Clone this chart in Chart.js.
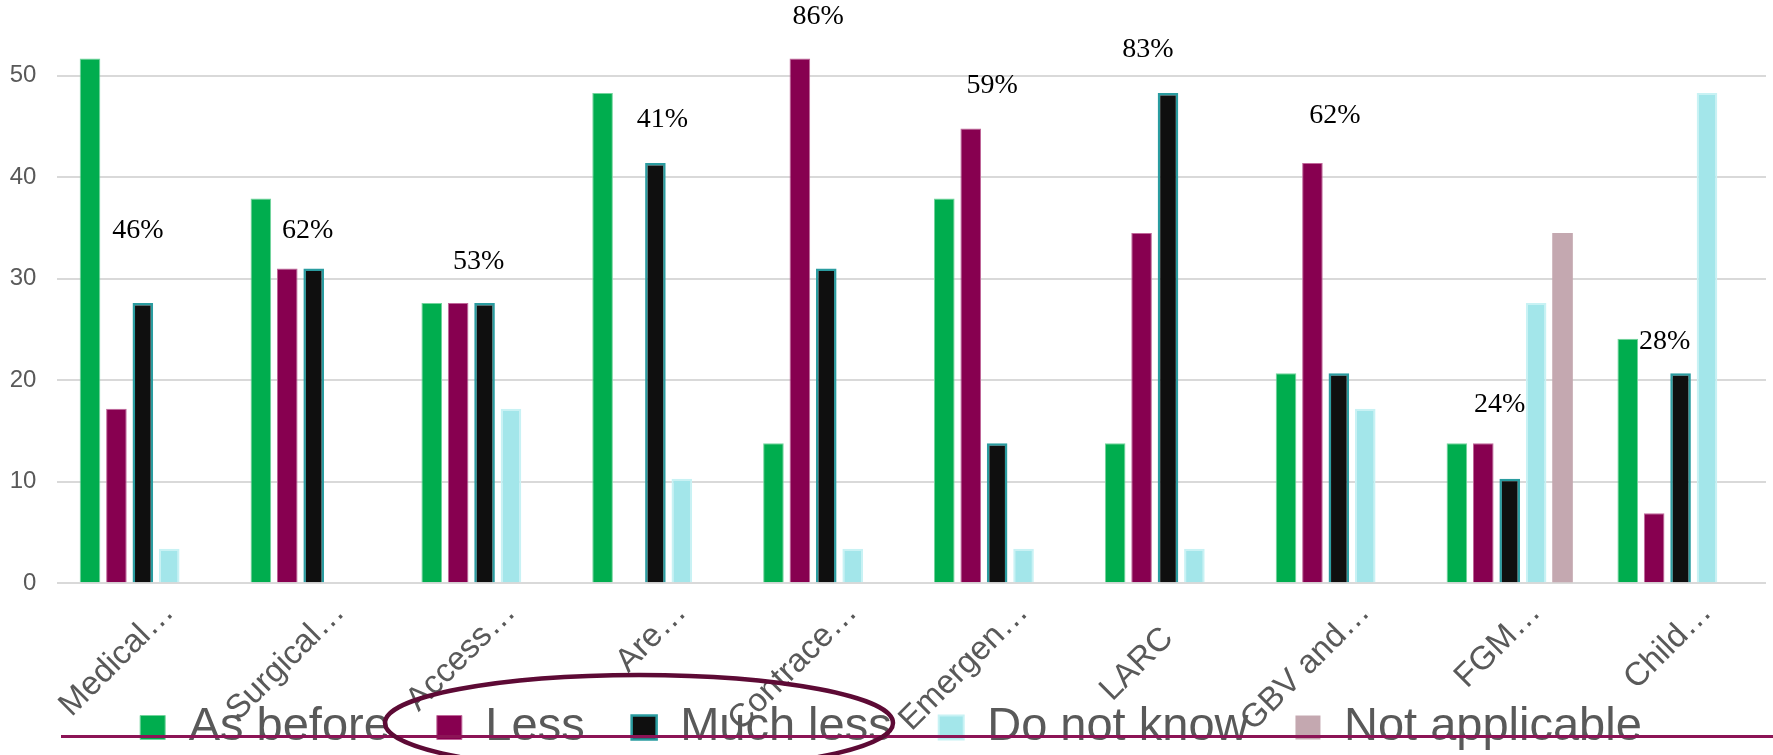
<!DOCTYPE html>
<html>
<head>
<meta charset="utf-8">
<script src="https://cdn.jsdelivr.net/npm/chart.js@4.4.1/dist/chart.umd.min.js"></script>
<style>
  html, body { margin: 0; padding: 0; background: #fff; }
  #wrap { width: 1773px; height: 755px; position: relative; }
</style>
</head>
<body>
<div id="wrap"><canvas id="myChart"></canvas></div>
<script>
// categories (labels are cut short with an ellipsis, as in the source;
// the short "LARC" sits a little lower, hence the trailing spaces)
const categories = ['Medical\u2026', 'Surgical\u2026', 'Access\u2026', 'Are\u2026', 'Contrace\u2026',
    'Emergen\u2026', 'LARC    ', 'GBV and\u2026', 'FGM\u2026', 'Child\u2026'];

// series values (%)
const asBefore     = [51.7, 37.9, 27.6, 48.3, 13.8, 37.9, 13.8, 20.7, 13.8, 24.1];
const less         = [17.2, 31.0, 27.6, 0,    51.7, 44.8, 34.5, 41.4, 13.8, 6.9];
const muchLess     = [27.6, 31.0, 27.6, 41.4, 31.0, 13.8, 48.3, 20.7, 10.3, 20.7];
const doNotKnow    = [3.4,  0,    17.2, 10.3, 3.4,  3.4,  3.4,  17.2, 27.6, 48.3];
const notApplicable = [0,   0,    0,    0,    0,    0,    0,    0,    34.5, 0];

// the loose percentage notes over each group, and the value they sit at
const pctText  = ['46%', '62%', '53%', '41%', '86%', '59%', '83%', '62%', '24%', '28%'];
const pctLevel = [34.7, 34.7, 31.7, 45.7, 55.8, 49.0, 52.6, 46.1, 17.6, 23.8];

const yTicks = [0, 10, 20, 30, 40, 50];
const yMax = 57.46;

// layout bits
const pctShift = [-5, -6, -6, 7, -8, -5, -20, -4, -10, -16];
const grey = '#595959';
const sans = '"Liberation Sans", Arial, sans-serif';

function bw(w) {
    return (ctx) => (ctx.raw ? w : 0);
}

const overlay = {
    id: 'overlay',
    afterLayout(chart) {
        // let the tick labels run outside their own boxes, like the source does
        chart.scales.x.bottom = chart.height;
        chart.scales.y.left = 0;
    },
    afterDatasetsDraw(chart) {
        const ctx = chart.ctx;
        const x = chart.scales.x, y = chart.scales.y;
        ctx.save();
        ctx.font = '28px "Liberation Serif", "Times New Roman", serif';
        ctx.fillStyle = '#000';
        ctx.textAlign = 'center';
        ctx.textBaseline = 'middle';
        for (let i = 0; i < pctText.length; i++) {
            ctx.fillText(pctText[i], x.getPixelForValue(i) + pctShift[i], y.getPixelForValue(pctLevel[i]));
        }
        ctx.restore();
    },
    afterDraw(chart) {
        const ctx = chart.ctx;
        ctx.save();
        // rule under the legend
        ctx.strokeStyle = '#8c1456';
        ctx.lineWidth = 3;
        ctx.beginPath();
        ctx.moveTo(61, 736.5);
        ctx.lineTo(1773, 736.5);
        ctx.stroke();
        // hand-drawn ring round "Less" / "Much less"
        ctx.strokeStyle = '#5d0a35';
        ctx.lineWidth = 4.5;
        ctx.beginPath();
        ctx.ellipse(639, 723, 254, 48, 0, 0, Math.PI * 2);
        ctx.stroke();
        ctx.restore();
    }
};

new Chart(document.getElementById('myChart'), {
    type: 'bar',
    data: {
        labels: categories,
        datasets: [
            { label: 'As before', data: asBefore, backgroundColor: '#00ad4e', borderColor: '#72d49c', borderWidth: bw(1) },
            { label: 'Less', data: less, backgroundColor: '#870050', borderColor: '#c0679a', borderWidth: bw(1) },
            { label: 'Much less', data: muchLess, backgroundColor: '#0f0f0f', borderColor: '#2a9ca0', borderWidth: bw(2.5) },
            { label: 'Do not know', data: doNotKnow, backgroundColor: '#a3e6ea', borderColor: '#c8f2f4', borderWidth: bw(2) },
            { label: 'Not applicable', data: notApplicable, backgroundColor: '#c4a8b0', borderColor: '#c4a8b0', borderWidth: 0 }
        ]
    },
    options: {
        responsive: true,
        maintainAspectRatio: false,
        animation: false,
        layout: { padding: { left: 16, right: 7, top: 0, bottom: -6 } },
        datasets: { bar: { categoryPercentage: 0.773, barPercentage: 0.78 } },
        scales: {
            x: {
                grid: { display: false },
                border: { display: false },
                ticks: {
                    autoSkip: false,
                    minRotation: 45,
                    maxRotation: 45,
                    padding: 2,
                    labelOffset: 26,
                    color: grey,
                    font: { family: sans, size: 33 }
                },
                afterFit(scale) {
                    scale.height = 73.7;
                    scale.paddingLeft = 0;
                    scale.paddingRight = 0;
                }
            },
            y: {
                min: 0,
                max: yMax,
                border: { display: false },
                grid: { color: '#d9d9d9', lineWidth: 2, drawTicks: false },
                ticks: {
                    padding: 21,
                    color: grey,
                    font: { family: sans, size: 24 }
                },
                afterDataLimits(scale) {
                    scale.min = 0;
                    scale.max = yMax;
                },
                afterBuildTicks(scale) {
                    scale.ticks = yTicks.map(v => ({ value: v }));
                    scale.min = 0;
                    scale.max = yMax;
                },
                afterFit(scale) {
                    scale.width = 41.4;
                    scale.paddingTop = 0;
                    scale.paddingBottom = 0;
                }
            }
        },
        plugins: {
            tooltip: { enabled: false },
            legend: {
                position: 'bottom',
                labels: {
                    boxWidth: 25,
                    boxHeight: 24,
                    padding: 47,
                    color: grey,
                    font: { family: sans, size: 47 }
                }
            }
        }
    },
    plugins: [overlay]
});
</script>
</body>
</html>
